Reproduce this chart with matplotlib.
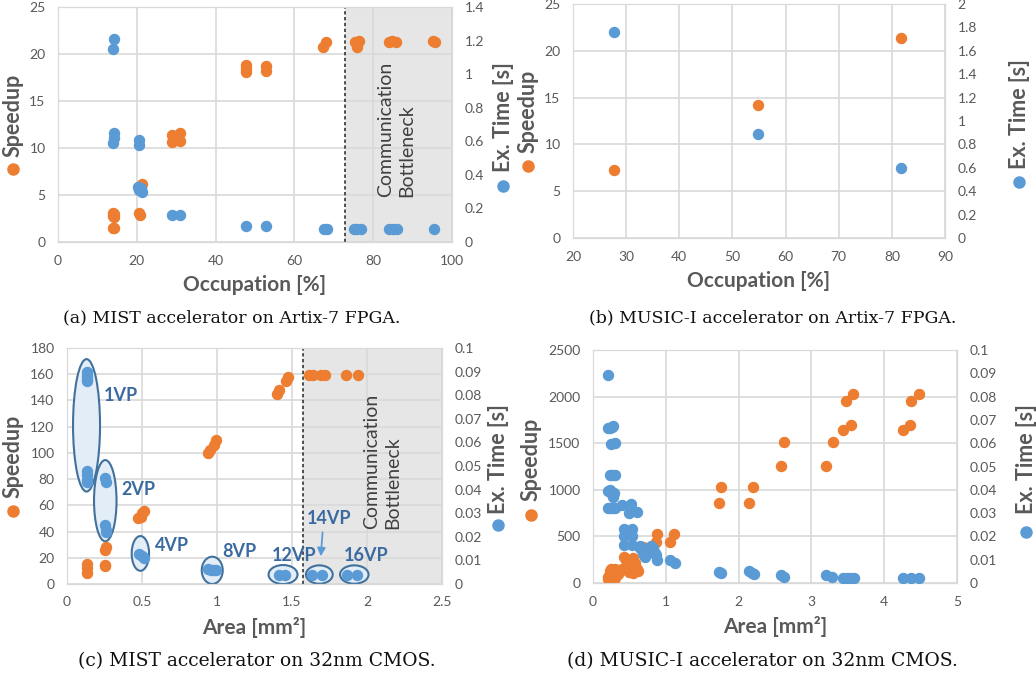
import matplotlib
matplotlib.use('Agg')
import matplotlib.pyplot as plt
from matplotlib.patches import Ellipse
from matplotlib.ticker import FuncFormatter
import numpy as np

plt.rcParams['font.family'] = 'Lato'

ORANGE = '#ED7D31'
BLUE = '#5B9BD5'
GRAY = '#595959'
GRID = '#d9d9d9'

# (a) MIST on Artix-7 FPGA
a_sp_x = [14.0, 14.0, 14.3, 14.3, 14.0, 14.3, 20.6, 20.8, 20.8, 21.2, 28.9, 28.9, 31.0, 31.0,
          47.7, 47.7, 47.7, 52.8, 52.8, 67.3, 68.0, 75.5, 75.8, 76.5, 75.8, 84.0, 84.8, 85.8, 95.3, 95.6]
a_sp_y = [3.1, 2.8, 3.0, 2.7, 1.45, 1.45, 3.1, 2.9, 6.0, 6.2, 11.4, 10.6, 11.6, 10.7,
          18.8, 18.4, 18.1, 18.7, 18.2, 20.8, 21.3, 21.3, 20.8, 21.4, 21.1, 21.3, 21.4, 21.3, 21.4, 21.3]
a_t_x = [14.0, 14.3, 14.3, 14.3, 14.0, 20.6, 20.6, 20.2, 20.6, 21.0, 21.4, 28.9, 31.0,
         47.7, 52.8, 67.5, 68.3, 75.2, 76.0, 76.8, 84.0, 85.0, 86.0, 95.4]
a_t_y = [1.15, 1.21, 0.65, 0.62, 0.59, 0.61, 0.58, 0.33, 0.31, 0.32, 0.30, 0.16, 0.16,
         0.095, 0.095, 0.08, 0.08, 0.08, 0.08, 0.08, 0.08, 0.08, 0.08, 0.08]

# (b) MUSIC-I on Artix-7 FPGA
b_x = [27.7, 54.8, 81.8]
b_sp = [7.3, 14.2, 21.4]
b_t = [1.76, 0.89, 0.60]

# (c) MIST on 32nm CMOS
c_sp_x = [0.135, 0.135, 0.135, 0.253, 0.253, 0.25, 0.26, 0.47, 0.49, 0.50, 0.51,
          0.94, 0.95, 0.98, 0.99, 1.40, 1.41, 1.46, 1.47, 1.61, 1.64, 1.69, 1.72, 1.86, 1.94]
c_sp_y = [15, 12, 8, 14.5, 13.5, 26, 28, 50, 51, 54, 56,
          100, 102, 106, 110, 145, 148, 155, 158, 159.5, 159.5, 159.5, 159.5, 159.5, 159.5]
c_t_x = [0.135, 0.135, 0.135, 0.135, 0.135, 0.135, 0.135, 0.135,
         0.25, 0.26, 0.25, 0.26, 0.26, 0.48, 0.50, 0.51,
         0.94, 0.96, 0.98, 0.99, 1.415, 1.453, 1.633, 1.70, 1.864, 1.935]
c_t_y = [0.090, 0.088, 0.087, 0.086, 0.048, 0.046, 0.044, 0.043,
         0.045, 0.043, 0.025, 0.023, 0.022, 0.0125, 0.012, 0.011,
         0.0062, 0.0060, 0.0058, 0.0060, 0.0038, 0.0038, 0.0038, 0.0038, 0.0038, 0.0038]
vp_labels = ['1VP', '2VP', '4VP', '8VP', '12VP', '14VP', '16VP']

# (d) MUSIC-I on 32nm CMOS
d_sp_x = [1.73, 1.76, 2.14, 2.20, 2.58, 2.63, 3.20, 3.29, 3.44, 3.55, 3.47, 3.57,
          4.26, 4.35, 4.37, 4.48, 0.88, 0.86, 1.06, 1.11, 0.68, 0.72, 0.76,
          0.42, 0.45, 0.47, 0.50, 0.52, 0.55, 0.58, 0.60, 0.62, 0.45, 0.50, 0.55,
          0.20, 0.21, 0.22, 0.23, 0.24, 0.25, 0.27, 0.28, 0.30, 0.30, 0.32, 0.33, 0.35, 0.37, 0.40]
d_sp_y = [860, 1030, 860, 1030, 1260, 1510, 1260, 1510, 1645, 1700, 1958, 2030,
          1645, 1700, 1958, 2030, 530, 440, 440, 530, 390, 350, 320,
          280, 250, 200, 180, 160, 270, 220, 150, 130, 150, 120, 110,
          40, 60, 80, 100, 130, 150, 70, 110, 150, 50, 90, 120, 100, 130, 150]
d_t_x = [0.21, 0.21, 0.23, 0.26, 0.27, 0.25, 0.30, 0.23, 0.26, 0.30,
         0.21, 0.24, 0.26, 0.28, 0.29, 0.21, 0.24, 0.27, 0.30, 0.40, 0.52, 0.49, 0.60,
         0.43, 0.53, 0.43, 0.53, 0.43, 0.53, 0.64, 0.65, 0.68, 0.70, 0.72, 0.80, 0.83, 0.85, 0.87, 0.88,
         1.06, 1.12, 1.73, 1.76, 2.14, 2.18, 2.21, 2.58, 2.63, 3.20, 3.28,
         3.44, 3.49, 3.53, 3.58, 4.26, 4.37, 4.48]
d_t_y = [0.0893, 0.0665, 0.0665, 0.067, 0.0675, 0.0598, 0.0603, 0.0464, 0.0464, 0.0464,
         0.0395, 0.040, 0.038, 0.037, 0.0385, 0.032, 0.032, 0.032, 0.032, 0.0333, 0.0339, 0.030, 0.0303,
         0.023, 0.023, 0.020, 0.020, 0.0165, 0.0165, 0.016, 0.015, 0.013, 0.012, 0.011, 0.016, 0.015, 0.013, 0.012, 0.010,
         0.0098, 0.0085, 0.0048, 0.0042, 0.005, 0.0045, 0.0040, 0.0036, 0.0028, 0.0036, 0.0028,
         0.0021, 0.0021, 0.0021, 0.0021, 0.0021, 0.0021, 0.0021]

fmt = FuncFormatter(lambda v, p: '{:g}'.format(round(v, 4)))


def setup(ax, ax2, xlim, xstep, ylim, ystep, tlim, tstep, xlabel):
    ax.set_xlim(*xlim)
    ax.set_ylim(*ylim)
    ax2.set_ylim(*tlim)
    ax.set_xticks(np.arange(xlim[0], xlim[1] + xstep / 2, xstep))
    ax.set_yticks(np.arange(ylim[0], ylim[1] + ystep / 2, ystep))
    ax2.set_yticks(np.arange(tlim[0], tlim[1] + tstep / 2, tstep))
    for a in (ax, ax2):
        a.xaxis.set_major_formatter(fmt)
        a.yaxis.set_major_formatter(fmt)
        a.tick_params(length=0, labelsize=10, labelcolor=GRAY, pad=9)
        for s in a.spines.values():
            s.set_color(GRID)
    ax.grid(True, color=GRID, lw=1.2)
    ax.set_axisbelow(True)
    ax.set_xlabel(xlabel, fontsize=15, fontweight='bold', color=GRAY, labelpad=6)


def side_label(ax, x, text, color, yt=0.54, yd=0.31):
    ax.text(x, yt, text, rotation=90, transform=ax.transAxes, ha='center', va='center',
            fontsize=15.5, fontweight='bold', color=GRAY)
    ax.plot([x], [yd], 'o', color=color, ms=8, transform=ax.transAxes, clip_on=False)


fig = plt.figure(figsize=(10.36, 6.77), dpi=100)
axa = fig.add_axes([0.0560, 0.6425, 0.3803, 0.3471])
axb = fig.add_axes([0.5531, 0.6484, 0.3591, 0.3456])
axc = fig.add_axes([0.0647, 0.1374, 0.3620, 0.3486])
axd = fig.add_axes([0.5724, 0.1388, 0.3514, 0.3442])
axa2, axb2, axc2, axd2 = axa.twinx(), axb.twinx(), axc.twinx(), axd.twinx()

ms = 52
bottleneck_kw = dict(rotation=90, ha='center', va='center', multialignment='left',
                     fontsize=14, color='#404040', linespacing=1.3)

# (a)
setup(axa, axa2, (0, 100), 20, (0, 25), 5, (0, 1.4), 0.2, 'Occupation [%]')
axa.axvspan(72.8, 100, color='#e6e6e6', zorder=0.2, lw=0)
axa.axvline(72.8, color='#333333', ls=(0, (2, 1.5)), lw=1.2, zorder=0.6)
axa.scatter(a_sp_x, a_sp_y, s=ms, color=ORANGE, zorder=3)
axa2.scatter(a_t_x, a_t_y, s=ms, color=BLUE, zorder=3)
axa.text(85.8, 12.0, 'Communication\nBottleneck', **bottleneck_kw)
side_label(axa, -0.114, 'Speedup', ORANGE)
side_label(axa2, 1.13, 'Ex. Time [s]', BLUE, 0.53, 0.24)

# (b)
setup(axb, axb2, (20, 90), 10, (0, 25), 5, (0, 2), 0.2, 'Occupation [%]')
axb.scatter(b_x, b_sp, s=ms, color=ORANGE, zorder=3)
axb2.scatter(b_x, b_t, s=ms, color=BLUE, zorder=3)
side_label(axb, -0.12, 'Speedup', ORANGE)
side_label(axb2, 1.2, 'Ex. Time [s]', BLUE, 0.53, 0.24)

# (c)
setup(axc, axc2, (0, 2.5), 0.5, (0, 180), 20, (0, 0.1), 0.01, 'Area [mm²]')
axc.axvspan(1.575, 2.5, color='#e6e6e6', zorder=0.2, lw=0)
axc.axvline(1.575, color='#333333', ls=(0, (2, 1.5)), lw=1.2, zorder=0.6)
ell = [(0.13, 121, 0.18, 101), (0.255, 63.5, 0.15, 62), (0.489, 23.3, 0.116, 26.5),
       (0.968, 10.4, 0.14, 20.8), (1.44, 7.2, 0.193, 14.5), (1.682, 7.2, 0.178, 14),
       (1.915, 7.2, 0.19, 14)]
for cx, cy, w, h in ell:
    axc.add_patch(Ellipse((cx, cy), w, h, facecolor='#e3edf8', edgecolor='#41719c', lw=1.5, zorder=1))
lab_pos = [(0.243, 144), (0.365, 71.7), (0.587, 29.7), (1.038, 24.6), (1.365, 22), (1.60, 50), (1.842, 21.4)]
for lab, (lx, ly) in zip(vp_labels, lab_pos):
    axc.text(lx, ly, lab, ha='left', va='center', fontsize=13, fontweight='bold', color='#3b6aa0', zorder=4)
axc.annotate('', xy=(1.69, 19.0), xytext=(1.705, 41.5),
             arrowprops=dict(arrowstyle='-|>', color=BLUE, lw=1.3, mutation_scale=12), zorder=4)
axc.scatter(c_sp_x, c_sp_y, s=ms, color=ORANGE, zorder=3)
axc2.scatter(c_t_x, c_t_y, s=ms, color=BLUE, zorder=3)
axc.text(2.1, 93.8, 'Communication\nBottleneck', **bottleneck_kw)
side_label(axc, -0.144, 'Speedup', ORANGE)
side_label(axc2, 1.15, 'Ex. Time [s]', BLUE, 0.53, 0.25)

# (d)
setup(axd, axd2, (0, 5), 1, (0, 2500), 500, (0, 0.1), 0.01, 'Area [mm²]')
axd.scatter(d_sp_x, d_sp_y, s=ms, color=ORANGE, zorder=3)
axd2.scatter(d_t_x, d_t_y, s=ms, color=BLUE, zorder=3)
side_label(axd, -0.17, 'Speedup', ORANGE, 0.53, 0.29)
side_label(axd2, 1.19, 'Ex. Time [s]', BLUE, 0.53, 0.22)

# captions
cap_kw = dict(ha='center', va='center', family='DejaVu Serif', color='#111111')
fig.text(232 / 1036, 1 - 318 / 677, '(a) MIST accelerator on Artix-7 FPGA.', fontsize=12.5, **cap_kw)
fig.text(773 / 1036, 1 - 318 / 677, '(b) MUSIC-I accelerator on Artix-7 FPGA.', fontsize=12.5, **cap_kw)
fig.text(257 / 1036, 1 - 661 / 677, '(c) MIST accelerator on 32nm CMOS.', fontsize=13.5, **cap_kw)
fig.text(762 / 1036, 1 - 661 / 677, '(d) MUSIC-I accelerator on 32nm CMOS.', fontsize=13.5, **cap_kw)

fig.savefig('out.png', dpi=100)
